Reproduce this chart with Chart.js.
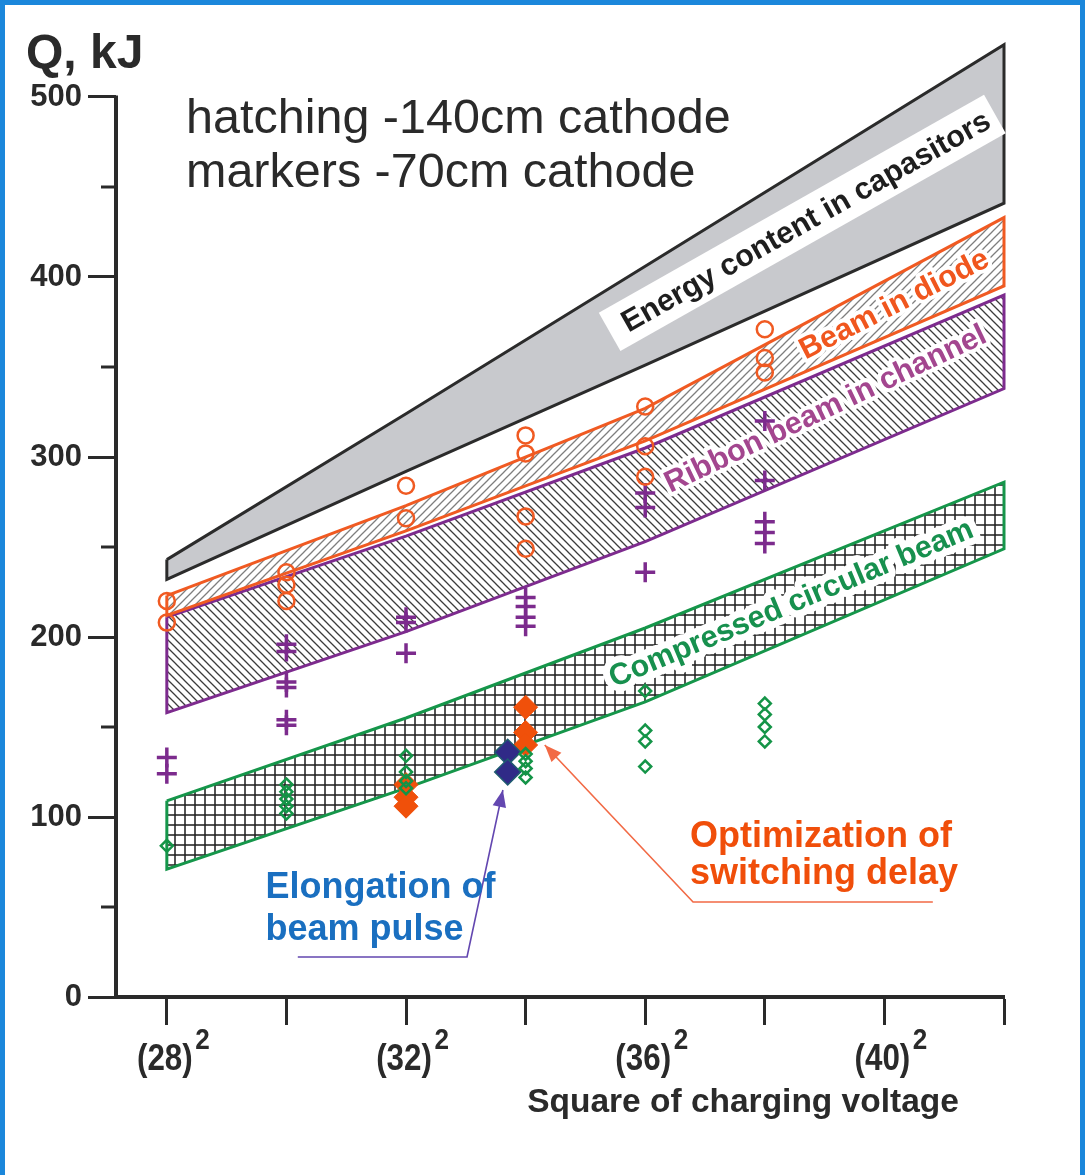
<!DOCTYPE html>
<html>
<head>
<meta charset="utf-8">
<title>Q vs charging voltage</title>
<script src="https://cdn.jsdelivr.net/npm/chart.js@4.4.1/dist/chart.umd.min.js"></script>
<style>
  html, body { margin: 0; padding: 0; background: #fff; }
  canvas { display: block; }
</style>
</head>
<body>
<canvas id="chart" width="1085" height="1175"></canvas>
<script>
// charging voltage, kV (the axis is labelled with the squares)
var voltTicks = [28, 32, 36, 40];
var voltLabels = ['(28)', '(32)', '(36)', '(40)'];

// band outlines (140 cm cathode), Q in kJ at these voltages
var bandVolts = [28, 32, 36, 42];
var capTop = [243, 324, 406, 529];
var capBottom = [232, 292, 351, 441];
var diodeTop = [223, 273, 327, 433];
var diodeBottom = [212, 259, 309, 395];
var channelTop = [211, 256, 305, 390];
var channelBottom = [158, 203, 253, 338];
var beamTop = [109, 155, 205, 286];
var beamBottom = [71, 116, 164, 249];

// 70 cm cathode shots
var diodeV = [28, 28, 30, 30, 30, 32, 32, 34, 34, 34, 34, 36, 36, 36, 38, 38, 38];
var diodeQ = [220, 208, 236, 229, 220, 284, 266, 312, 302, 267, 249, 328, 306, 289, 371, 355, 347];
var channelV = [28, 28, 30, 30, 30, 30, 30, 30, 32, 32, 32, 34, 34, 34, 34, 36, 36, 36, 38, 38, 38, 38, 38];
var channelQ = [133, 124, 196, 192, 175, 172, 154, 151, 211, 208, 191, 222, 217, 211, 206, 280, 272, 236, 320, 287, 264, 258, 252];
var circularV = [28, 30, 30, 30, 30, 30, 32, 32, 32, 32, 34, 34, 34, 34, 36, 36, 36, 36, 38, 38, 38, 38];
var circularQ = [84, 118, 114, 110, 106, 102, 134, 125, 120, 116, 135, 131, 127, 122, 170, 148, 142, 128, 163, 157, 150, 142];
var delayV = [32, 32, 32, 34, 34, 34];
var delayQ = [118, 111, 106, 161, 147, 140];
var pulseV = [33.7, 33.7];
var pulseQ = [136, 125];

var ink = '#2a2a2a';
var FONT = "'Liberation Sans', Arial, sans-serif";
Chart.defaults.font.family = FONT;

function hatch(kind, color, width, step) {
  var c = document.createElement('canvas');
  c.width = step; c.height = step;
  var g = c.getContext('2d');
  g.strokeStyle = color; g.lineWidth = width;
  g.beginPath();
  if (kind === '/') {
    g.moveTo(-1, step + 1); g.lineTo(step + 1, -1);
    g.moveTo(-2, 2); g.lineTo(2, -2);
    g.moveTo(step - 2, step + 2); g.lineTo(step + 2, step - 2);
  } else if (kind === '\\') {
    g.moveTo(-1, -1); g.lineTo(step + 1, step + 1);
    g.moveTo(step - 2, -2); g.lineTo(step + 2, 2);
    g.moveTo(-2, step - 2); g.lineTo(2, step + 2);
  } else {
    g.moveTo(step / 2, 0); g.lineTo(step / 2, step);
    g.moveTo(0, step / 2); g.lineTo(step, step / 2);
  }
  g.stroke();
  return g.createPattern(c, 'repeat');
}

function outline(top, bottom) {
  var pts = bandVolts.map(function (v, i) { return {x: v, y: top[i]}; });
  for (var i = bandVolts.length - 1; i >= 0; i--) pts.push({x: bandVolts[i], y: bottom[i]});
  pts.push(pts[0]);
  return pts;
}

function marks(vs, qs) {
  return vs.map(function (v, i) { return {x: v, y: qs[i]}; });
}

function band(pts, line, fill) {
  return {
    type: 'line', data: pts, borderColor: line, borderWidth: 3, backgroundColor: fill,
    fill: 'shape', pointRadius: 0, tension: 0, borderJoinStyle: 'miter', clip: false, order: 10
  };
}

// white page with the blue frame
var framePlugin = {
  id: 'frame',
  beforeDraw: function (chart) {
    var c = chart.ctx;
    c.save();
    c.fillStyle = '#fff';
    c.fillRect(0, 0, chart.width, chart.height);
    c.strokeStyle = '#1b87db';
    c.lineWidth = 5;
    c.strokeRect(2.5, 2.5, chart.width - 5, chart.height + 20);
    c.restore();
  }
};

// rotated names written along the bands, right after the bands are drawn
var bandNotes = [
  {text: 'Energy content in capasitors', v: 35.72, q: 369, angle: -29.5, color: '#1e1e1e', box: true},
  {text: 'Beam in diode', v: 38.68, q: 354, angle: -27, color: '#f0561e', halo: 8},
  {text: 'Ribbon beam in channel', v: 36.42, q: 280, angle: -25.5, color: '#a3468f', halo: 8},
  {text: 'Compressed circular beam', v: 35.48, q: 172, angle: -22.7, color: '#17904e', halo: 14}
];
var bandTextPlugin = {
  id: 'bandText',
  afterDatasetDraw: function (chart, args) {
    if (args.index !== 0) return;
    var c = chart.ctx, xs = chart.scales.x, ys = chart.scales.y;
    c.save();
    c.font = 'bold 30.5px ' + FONT;
    bandNotes.forEach(function (n) {
      c.save();
      c.translate(xs.getPixelForValue(n.v), ys.getPixelForValue(n.q));
      c.rotate(n.angle * Math.PI / 180);
      var w = c.measureText(n.text).width;
      if (n.box) {
        c.fillStyle = '#fff';
        c.fillRect(-16, -32, w + 24, 44);
      } else {
        c.strokeStyle = '#fff';
        c.lineWidth = n.halo;
        c.lineJoin = 'round';
        c.strokeText(n.text, 0, 0);
      }
      c.fillStyle = n.color;
      c.fillText(n.text, 0, 0);
      c.restore();
    });
    c.restore();
  }
};

function arrow(c, pts, color, head) {
  c.strokeStyle = color; c.fillStyle = color; c.lineWidth = 1.6;
  c.beginPath();
  c.moveTo(pts[0][0], pts[0][1]);
  for (var i = 1; i < pts.length; i++) c.lineTo(pts[i][0], pts[i][1]);
  c.stroke();
  var a = pts[pts.length - 2], b = pts[pts.length - 1];
  var ang = Math.atan2(b[1] - a[1], b[0] - a[0]);
  c.save();
  c.translate(b[0], b[1]);
  c.rotate(ang);
  c.beginPath();
  c.moveTo(0, 0); c.lineTo(-head, -head * 0.4); c.lineTo(-head, head * 0.4);
  c.closePath(); c.fill();
  c.restore();
}

// axis line, minor ticks, squared labels, titles and the call-outs
var overlayPlugin = {
  id: 'overlay',
  afterDraw: function (chart) {
    var c = chart.ctx, xs = chart.scales.x, ys = chart.scales.y;
    var left = chart.chartArea.left;
    var X = function (v) { return xs.getPixelForValue(v); };
    var Y = function (q) { return ys.getPixelForValue(q); };
    c.save();

    c.strokeStyle = ink;
    c.lineWidth = 4;
    c.beginPath();
    c.moveTo(left, Y(500) - 1.5);
    c.lineTo(left, Y(0) + 2);
    c.stroke();
    c.lineWidth = 3;
    ys.ticks.forEach(function (t) {
      if (t.value % 100 === 0) return;
      var y = Y(t.value);
      c.beginPath(); c.moveTo(left - 15, y); c.lineTo(left, y); c.stroke();
    });

    c.fillStyle = ink;
    c.textBaseline = 'alphabetic';
    voltTicks.forEach(function (v, i) {
      c.save();
      c.translate(X(v) - 2, 1070);
      c.scale(0.87, 1);
      c.font = 'bold 36px ' + FONT;
      c.textAlign = 'center';
      c.fillText(voltLabels[i], 0, 0);
      var w = c.measureText(voltLabels[i]).width;
      c.font = 'bold 30px ' + FONT;
      c.textAlign = 'left';
      c.fillText('2', w / 2 + 3, -21);
      c.restore();
    });

    c.save();
    c.translate(743, 1112);
    c.scale(0.985, 1);
    c.font = 'bold 34px ' + FONT;
    c.textAlign = 'center';
    c.fillText('Square of charging voltage', 0, 0);
    c.restore();

    c.textAlign = 'left';
    c.font = 'bold 48px ' + FONT;
    c.fillText('Q, kJ', 26, 68);
    c.font = '48.5px ' + FONT;
    c.fillText('hatching -140cm cathode', 186, 133);
    c.fillText('markers -70cm cathode', 186, 187);

    arrow(c, [[X(30.19), Y(22.2)], [X(33.02), Y(22.2)], [X(33.62), Y(115)]], '#6347b0', 17);
    arrow(c, [[X(40.81), Y(52.8)], [X(36.8), Y(52.8)], [X(34.32), Y(140)]], '#f26a45', 17);

    c.font = 'bold 36px ' + FONT;
    c.fillStyle = '#1a6fc0';
    c.fillText('Elongation of', X(29.65), Y(55));
    c.fillText('beam pulse', X(29.65), Y(55) + 42);
    c.fillStyle = '#f04e0a';
    c.fillText('Optimization of', X(36.75), Y(83.3));
    c.fillText('switching delay', X(36.75), Y(83.3) + 37);
    c.restore();
  }
};

new Chart(document.getElementById('chart'), {
  type: 'scatter',
  data: {
    datasets: [
      band(outline(capTop, capBottom), '#2b2b2b', '#c8c9cd'),
      band(outline(diodeTop, diodeBottom), '#f05a22', hatch('/', '#7e7e7e', 1.3, 8)),
      band(outline(channelTop, channelBottom), '#7d2b8e', hatch('\\', '#3c3c3c', 1.3, 8)),
      band(outline(beamTop, beamBottom), '#15964a', hatch('#', '#1e1e1e', 1.5, 10)),
      {data: marks(delayV, delayQ), pointStyle: 'rectRot', pointRadius: 12, borderWidth: 1,
        borderColor: '#f0500a', backgroundColor: '#f0500a', order: 4},
      {data: marks(pulseV, pulseQ), pointStyle: 'rectRot', pointRadius: 13, borderWidth: 1.5,
        borderColor: '#1f5c70', backgroundColor: '#302a87', order: 3},
      {data: marks(circularV, circularQ), pointStyle: 'rectRot', pointRadius: 6, borderWidth: 2.5,
        borderColor: '#149447', backgroundColor: 'rgba(255,255,255,0)', order: 2},
      {data: marks(channelV, channelQ), pointStyle: 'cross', pointRadius: 10, borderWidth: 3.5,
        borderColor: '#7c2b8d', order: 1},
      {data: marks(diodeV, diodeQ), pointStyle: 'circle', pointRadius: 8, borderWidth: 2.5,
        borderColor: '#f05a22', backgroundColor: 'rgba(255,255,255,0)', order: 0}
    ]
  },
  options: {
    responsive: false,
    animation: false,
    events: [],
    layout: {padding: {top: 43, right: 81, bottom: 0, left: 0}},
    plugins: {legend: {display: false}, tooltip: {enabled: false}},
    scales: {
      x: {
        type: 'linear', min: 27.15, max: 42,
        afterFit: function (s) { s.height = 178; },
        grid: {drawOnChartArea: false, tickLength: 28, tickWidth: 3, tickColor: ink},
        border: {display: true, color: ink, width: 4},
        ticks: {stepSize: 2, includeBounds: false, display: false}
      },
      y: {
        type: 'linear', min: 0, max: 530,
        afterFit: function (s) { s.width = 116; },
        grid: {
          drawOnChartArea: false, tickLength: 28, tickWidth: 3,
          tickColor: function (ctx) { return ctx.tick && ctx.tick.value % 100 === 0 ? ink : 'rgba(0,0,0,0)'; }
        },
        border: {display: false},
        ticks: {
          stepSize: 50, includeBounds: false, padding: 6, color: ink,
          font: {size: 31, weight: 'bold'},
          callback: function (v) { return v % 100 === 0 ? v : ''; }
        }
      }
    }
  },
  plugins: [framePlugin, bandTextPlugin, overlayPlugin]
});
</script>
</body>
</html>
